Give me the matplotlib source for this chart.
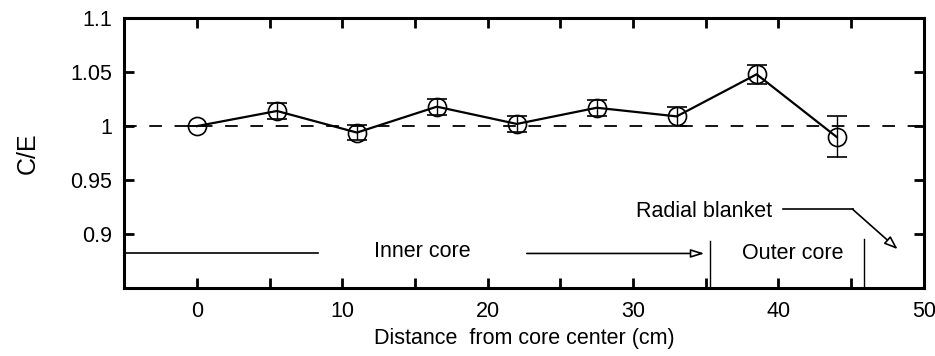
import matplotlib
matplotlib.use('Agg')
import matplotlib.pyplot as plt

# C/E ratio along the radial traverse
distance = [0, 5.5, 11, 16.5, 22, 27.5, 33, 38.5, 44]
ce_ratio = [1.000, 1.014, 0.994, 1.018, 1.002, 1.017, 1.009, 1.048, 0.990]
ce_error = [0.0, 0.007, 0.007, 0.0075, 0.0075, 0.0075, 0.009, 0.009, 0.019]

x_ticks = [0, 10, 20, 30, 40, 50]
y_ticks = [0.9, 0.95, 1.0, 1.05, 1.1]
y_tick_labels = ['0.9', '0.95', '1', '1.05', '1.1']

plt.rcParams['font.family'] = ['Liberation Sans', 'DejaVu Sans']

fig = plt.figure(figsize=(9.35, 3.56), dpi=100)
ax = fig.add_axes([0.133, 0.191, 0.855, 0.758])

# reference line C/E = 1
ax.axhline(1.0, color='black', lw=1.3, dashes=(7, 7), zorder=1)

ax.errorbar(distance, ce_ratio, yerr=ce_error, fmt='-o', color='black',
            lw=1.6, elinewidth=1.0, capsize=7, capthick=1.0,
            markersize=13, markerfacecolor='none', markeredgewidth=1.2,
            zorder=3)

ax.set_xlim(-5, 50)
ax.set_ylim(0.85, 1.1)
ax.set_xticks(x_ticks)
ax.set_xticks([-5, 5, 15, 25, 35, 45], minor=True)
ax.set_yticks(y_ticks)
ax.set_yticklabels(y_tick_labels)
ax.tick_params(which='both', direction='in', top=True, right=True,
               length=7, width=2)
ax.tick_params(axis='y', labelsize=15.5, pad=9)
ax.tick_params(axis='x', labelsize=15.5, pad=9)
for s in ax.spines.values():
    s.set_linewidth(2.2)

ax.set_xlabel('Distance  from core center (cm)', fontsize=15.5, labelpad=5)
ax.set_ylabel('C/E', fontsize=18, labelpad=22)

# core region annotations
ax.plot([-5, 8.3], [0.882, 0.882], color='black', lw=1.2)
ax.text(15.5, 0.884, 'Inner core', fontsize=15.5, ha='center', va='center')
ax.annotate('', xy=(35.1, 0.882), xytext=(22.5, 0.882),
            arrowprops=dict(arrowstyle='-|>,head_length=0.8,head_width=0.25',
                            fc='white', ec='black', lw=1.2))
ax.plot([35.3, 35.3], [0.85, 0.894], color='black', lw=1.0)
ax.text(41.0, 0.882, 'Outer core', fontsize=15.5, ha='center', va='center')
ax.plot([45.9, 45.9], [0.85, 0.895], color='black', lw=1.0)

ax.text(34.9, 0.921, 'Radial blanket', fontsize=15.5, ha='center', va='center')
ax.plot([40.3, 45.1], [0.923, 0.923], color='black', lw=1.2)
ax.annotate('', xy=(48.2, 0.886), xytext=(45.1, 0.923),
            arrowprops=dict(arrowstyle='-|>,head_length=0.8,head_width=0.3',
                            fc='white', ec='black', lw=1.2,
                            shrinkA=0, shrinkB=0))

fig.savefig('out.png', dpi=100)
